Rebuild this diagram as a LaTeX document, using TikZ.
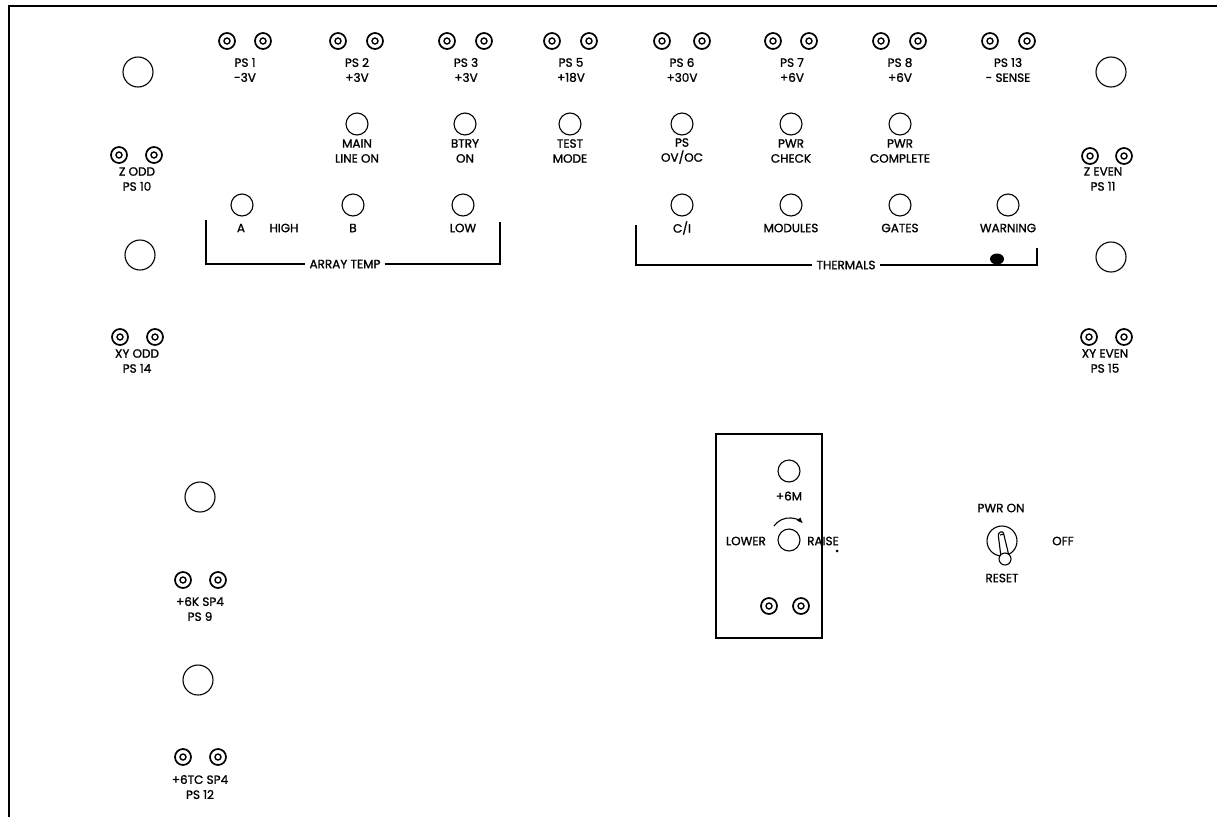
\documentclass[tikz,border=0pt]{standalone}
\usepackage{fontspec}
\setmainfont{Poppins}[FakeBold=1.2]
\usetikzlibrary{arrows.meta}
\tikzset{
  jack/.style={circle, draw, line width=1.7pt, minimum size=16pt, inner sep=0pt,
    path picture={\draw[line width=1.4pt] (path picture bounding box.center) circle (3pt);}},
  lamp/.style={circle, draw, line width=1.1pt, minimum size=22pt, inner sep=0pt},
  bigc/.style={circle, draw, line width=1.1pt, minimum size=30pt, inner sep=0pt},
  lbl/.style={align=center, inner sep=0pt, font=\fontsize{12}{15}\selectfont},
  frameline/.style={line width=1.8pt},
  brk/.style={line width=1.1pt},
}
\begin{document}
\begin{tikzpicture}[x=1pt,y=-1pt]
\useasboundingbox (0,0) rectangle (1217,817);
% frame
\coordinate (ftl) at (9,6);
\coordinate (ftr) at (1217,6);
\coordinate (fbl) at (9,817);
\draw[frameline] (fbl) -- (ftl) -- (ftr);

% top row jack pairs
\foreach \n/\xa/\xb in {1/227/263, 2/338/375, 3/447/484,
  5/552/589, 6/662/702, 7/773/809, 8/881/918, 13/990/1027}{
  \node[jack] (j\n a) at (\xa,41) {};
  \node[jack] (j\n b) at (\xb,41) {};
}
\node[lbl] (l1) at (245,70) {PS 1\\-3V};
\node[lbl] (l2) at (357,70) {PS 2\\+3V};
\node[lbl] (l3) at (466,70) {PS 3\\+3V};
\node[lbl] (l5) at (571,70) {PS 5\\+18V};
\node[lbl] (l6) at (682,70) {PS 6\\+30V};
\node[lbl] (l7) at (792,70) {PS 7\\+6V};
\node[lbl] (l8) at (900,70) {PS 8\\+6V};
\node[lbl] (l13) at (1008,70) {PS 13\\- SENSE};

% big circles on the sides
\node[bigc] (bl1) at (138,72) {};
\node[bigc] (bl2) at (140,255) {};
\node[bigc] (br1) at (1111,72) {};
\node[bigc] (br2) at (1111,257) {};

% side jack pairs
\node[jack] (zoa) at (119,155) {};
\node[jack] (zob) at (154,155) {};
\node[lbl] (lzo) at (137,179) {Z ODD\\PS 10};
\node[jack] (xoa) at (120,337) {};
\node[jack] (xob) at (155,337) {};
\node[lbl] (lxo) at (137,361) {XY ODD\\PS 14};
\node[jack] (zea) at (1090,156) {};
\node[jack] (zeb) at (1124,156) {};
\node[lbl] (lze) at (1103,179) {Z EVEN\\PS 11};
\node[jack] (xea) at (1089,337) {};
\node[jack] (xeb) at (1124,337) {};
\node[lbl] (lxe) at (1105,361) {XY EVEN\\PS 15};

% lamp row 2
\foreach \n/\x in {ml/357, bt/465, tm/570, ps/682, pc/791, pw/900}{
  \node[lamp] (r2\n) at (\x,124) {};
}
\node[lbl] (lml) at (357,151) {MAIN\\LINE ON};
\node[lbl] (lbt) at (465,151) {BTRY\\ON};
\node[lbl] (ltm) at (570,151) {TEST\\MODE};
\node[lbl] (lps) at (682,151) {PS\\OV/OC};
\node[lbl] (lpc) at (791,151) {PWR\\CHECK};
\node[lbl] (lpw) at (900,151) {PWR\\COMPLETE};

% lamp row 3
\foreach \n/\x in {a/242, b/353, lo/463, ci/682, mo/791, ga/900, wa/1008}{
  \node[lamp] (r3\n) at (\x,205) {};
}
\node[lbl] (la) at (241,228) {A};
\node[lbl] (lhi) at (284,228) {HIGH};
\node[lbl] (lb) at (353,228) {B};
\node[lbl] (llo) at (463,228) {LOW};
\node[lbl] (lci) at (682,228) {C/I};
\node[lbl] (lmo) at (791,228) {MODULES};
\node[lbl] (lga) at (900,228) {GATES};
\node[lbl] (lwa) at (1008,228) {WARNING};

% ARRAY TEMP bracket
\node[lbl, fill=white, inner xsep=4pt] (lat) at (345,264) {ARRAY TEMP};
\coordinate (at1) at (206,220);
\coordinate (at2) at (206,264);
\coordinate (at3) at (500,264);
\coordinate (at4) at (500,222);
\draw[brk] (at1) -- (at2) -- (lat.west |- at2);
\draw[brk] (lat.east |- at3) -- (at3) -- (at4);

% THERMALS bracket
\node[lbl, fill=white, inner xsep=4pt] (lth) at (846,265) {THERMALS};
\coordinate (th1) at (636,225);
\coordinate (th2) at (636,265);
\coordinate (th3) at (1037,265);
\coordinate (th4) at (1037,248);
\draw[brk] (th1) -- (th2) -- (lth.west |- th2);
\draw[brk] (lth.east |- th3) -- (th3) -- (th4);
\fill (997,259) ellipse (7pt and 5.5pt);

% adjust box
\node[draw, line width=1.3pt, minimum width=106pt, minimum height=204pt, inner sep=0pt] (box) at (769,536) {};
\node[lamp] (m6) at (789,471) {};
\node[lbl] (lm6) at (789,496) {+6M};
\node[lamp] (knob) at (789,540) {};
\node[lbl, anchor=east] (llow) at (766,541) {LOWER};
\node[lbl, anchor=west] (lrai) at (807,541) {RAISE};
\coordinate (arcs) at (774,526);
\draw[line width=1.1pt, -{Latex[length=6pt,width=5pt]}] (arcs) arc[start angle=145, end angle=45, radius=19pt];
\fill (837,551) circle (1.5pt);
\node[jack] (bja) at (769,606) {};
\node[jack] (bjb) at (801,606) {};

% toggle switch
\node[bigc] (tog) at (1002,541) {};
\draw[line width=1.1pt, fill=white, rounded corners=2.5pt] (998,533) -- (1003,531) -- (1009,556) -- (1001,557) -- cycle;
\node[circle, draw, line width=1.1pt, minimum size=12pt, inner sep=0pt, fill=white] (togk) at (1005,559) {};
\draw[line width=1.1pt] (1000,535) -- (1004,534);
\node[lbl] (lpon) at (1001,508) {PWR ON};
\node[lbl] (loff) at (1063,541) {OFF};
\node[lbl] (lres) at (1002,578) {RESET};

% bottom left
\node[bigc] (bb1) at (200,497) {};
\node[jack] (k9a) at (183,580) {};
\node[jack] (k9b) at (218,580) {};
\node[lbl] (lk9) at (200,609) {+6K SP4\\PS 9};
\node[bigc] (bb2) at (198,680) {};
\node[jack] (k12a) at (183,757) {};
\node[jack] (k12b) at (218,757) {};
\node[lbl] (lk12) at (200,787) {+6TC SP4\\PS 12};
\end{tikzpicture}
\end{document}
